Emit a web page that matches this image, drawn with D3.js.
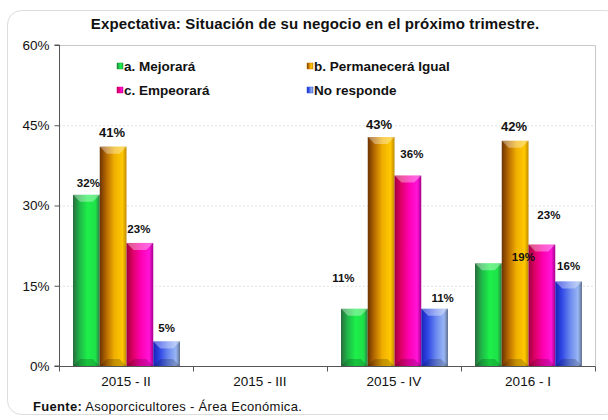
<!DOCTYPE html>
<html><head><meta charset="utf-8">
<script src="https://cdn.jsdelivr.net/npm/d3@7"></script>
<style>body{margin:0;background:#fff;}svg{display:block;font-family:"Liberation Sans",Arial,sans-serif;}</style>
</head><body><svg id="c" width="608" height="420"></svg>
<script>
const categories = ["2015 - II", "2015 - III", "2015 - IV", "2016 - I"];
const seriesNames = ["a. Mejorará", "b. Permanecerá Igual", "c. Empeorará", "No responde"];
const mejorara = [32, null, 10.7, 19.2];
const permanecera = [41, null, 42.8, 42.1];
const empeorara = [23, null, 35.6, 22.7];
const noResponde = [4.6, null, 10.7, 15.8];
const yTicks = [0, 15, 30, 45, 60];
// label nudges [dx, dy] per series per category (as placed in the original)
const labelNudges = [
  [[2,0],[0,0],[-11,-19],[35,6]],
  [[-1,-2],[0,0],[-2,0],[-1,-2]],
  [[-1,-2],[0,0],[4,-10],[7,-18]],
  [[0,-1],[0,0],[8,1],[0,-3]]
];
const seriesValues = [mejorara, permanecera, empeorara, noResponde];

const svg = d3.select("#c");
const plot = {l: 59, r: 595, t: 45, b: 366};

// outer rounded frame
svg.append("rect").attr("x", 7.5).attr("y", 10.5).attr("width", 612).attr("height", 404)
  .attr("rx", 14).attr("fill", "#fff").attr("stroke", "#dcdcdc").attr("stroke-width", 1);

const x = d3.scaleBand().domain(categories).range([plot.l, plot.r]).padding(0);
const xi = d3.scaleBand().domain(d3.range(4)).range([14, x.bandwidth() - 13]).padding(0);
const y = d3.scaleLinear().domain([0, 60]).range([plot.b, plot.t]);

// gradients
const defs = svg.append("defs");
const grads = [
  [["0%","#2b6b3e"],["25%","#1fb848"],["55%","#1df04a"],["85%","#1ee048"],["100%","#2c7a44"]],
  [["0%","#6b3300"],["25%","#b86a00"],["55%","#f0b000"],["85%","#ffc800"],["100%","#c08a00"]],
  [["0%","#a0003a"],["25%","#e0006a"],["55%","#ff00b4"],["85%","#ff14d8"],["100%","#a4008c"]],
  [["0%","#1a22b8"],["25%","#3048e6"],["55%","#6a88ee"],["85%","#98b6f4"],["100%","#607090"]]
];
grads.forEach((g, i) => {
  const lg = defs.append("linearGradient").attr("id", "g" + i).attr("x1", "0").attr("x2", "1").attr("y1", "0").attr("y2", "0");
  g.forEach(s => lg.append("stop").attr("offset", s[0]).attr("stop-color", s[1]));
});
const legendColors = ["#1e9a40", "#c07a00", "#e0008c", "#3a5ce0"];

// gridlines
svg.append("g").selectAll("line").data(yTicks.filter(t => t > 0 && t < 60)).join("line")
  .attr("x1", plot.l).attr("x2", plot.r).attr("y1", d => y(d) + 0.5).attr("y2", d => y(d) + 0.5)
  .attr("stroke", "#e2e2e2").attr("stroke-dasharray", "2,2");
// plot frame top/right
svg.append("path").attr("d", `M${plot.l},${plot.t + 0.5}H${plot.r + 0.5}V${plot.b}`)
  .attr("fill", "none").attr("stroke", "#c8c8c8");

// bars
const barData = [];
seriesValues.forEach((vals, si) => vals.forEach((v, ci) => {
  if (v != null) barData.push({si, ci, v});
}));
const bars = svg.append("g");
barData.forEach(d => {
  const x0 = x(categories[d.ci]) + xi(d.si);
  const w = xi.bandwidth();
  const y0 = y(d.v), y1 = y(0);
  const g = bars.append("g");
  g.append("rect").attr("x", x0).attr("y", y0).attr("width", w).attr("height", y1 - y0)
    .attr("fill", `url(#g${d.si})`);
  const b = Math.min(7, (y1 - y0) / 2);
  g.append("path").attr("d", `M${x0},${y0}H${x0 + w}L${x0 + w - 7},${y0 + b}H${x0 + 7}Z`)
    .attr("fill", "#fff").attr("opacity", 0.35);
  g.append("path").attr("d", `M${x0},${y1}H${x0 + w}L${x0 + w - 7},${y1 - b}H${x0 + 7}Z`)
    .attr("fill", "#000").attr("opacity", 0.18);
});

// value labels
svg.append("g").selectAll("text").data(barData).join("text")
  .attr("x", d => x(categories[d.ci]) + xi(d.si) + xi.bandwidth() / 2 + labelNudges[d.si][d.ci][0])
  .attr("y", d => y(d.v) - 8 + labelNudges[d.si][d.ci][1])
  .attr("text-anchor", "middle").attr("font-weight", "bold")
  .attr("font-size", d => d.si === 1 ? 13 : 11.5).attr("fill", "#111")
  .text(d => Math.round(d.v) + "%");

// axes
const yAxis = d3.axisLeft(y).tickValues(yTicks).tickSize(5).tickPadding(5).tickFormat(d => d + "%");
const ya = svg.append("g").attr("transform", `translate(${plot.l + 0.5},0)`).call(yAxis);
ya.select(".domain").attr("stroke", "#555").attr("d", `M-5,${plot.t}H0V${plot.b}H-5`);
ya.selectAll(".tick line").attr("stroke", "#555");
ya.selectAll(".tick text").attr("font-size", 13.5).attr("fill", "#111").attr("font-family", "Liberation Sans, Arial");

const xa = svg.append("g").attr("transform", `translate(0,${plot.b + 0.5})`);
xa.append("line").attr("x1", plot.l).attr("x2", plot.r + 0.5).attr("stroke", "#555");
xa.selectAll("line.t").data(categories.map(c => x(c)).concat([plot.r])).join("line").attr("class", "t")
  .attr("x1", d => d + 0.5).attr("x2", d => d + 0.5).attr("y1", 0).attr("y2", 5).attr("stroke", "#555");
xa.selectAll("text").data(categories).join("text")
  .attr("x", d => x(d) + x.bandwidth() / 2).attr("y", 19).attr("text-anchor", "middle")
  .attr("font-size", 13.5).attr("fill", "#111").text(d => d);

// title
svg.append("text").attr("x", 315).attr("y", 29).attr("text-anchor", "middle")
  .attr("font-size", 15).attr("font-weight", "bold").attr("fill", "#111").attr("letter-spacing", 0.15)
  .text("Expectativa: Situación de su negocio en el próximo trimestre.");

// legend
const legPos = [[117, 66], [307, 66], [117, 90], [307, 90]];
const lg = svg.append("g");
seriesNames.forEach((n, i) => {
  lg.append("rect").attr("x", legPos[i][0]).attr("y", legPos[i][1] - 3).attr("width", 6).attr("height", 6)
    .attr("fill", `url(#g${i})`).attr("stroke", legendColors[i]).attr("stroke-width", 0.5);
  lg.append("text").attr("x", legPos[i][0] + 7).attr("y", legPos[i][1] + 4.5)
    .attr("font-size", 13.5).attr("font-weight", "bold").attr("fill", "#111").text(n);
});

// source
const src = svg.append("text").attr("x", 33).attr("y", 411).attr("font-size", 13).attr("letter-spacing", 0.3).attr("fill", "#111");
src.append("tspan").attr("font-weight", "bold").text("Fuente:");
src.append("tspan").text(" Asoporcicultores - Área Económica.");
</script></body></html>
